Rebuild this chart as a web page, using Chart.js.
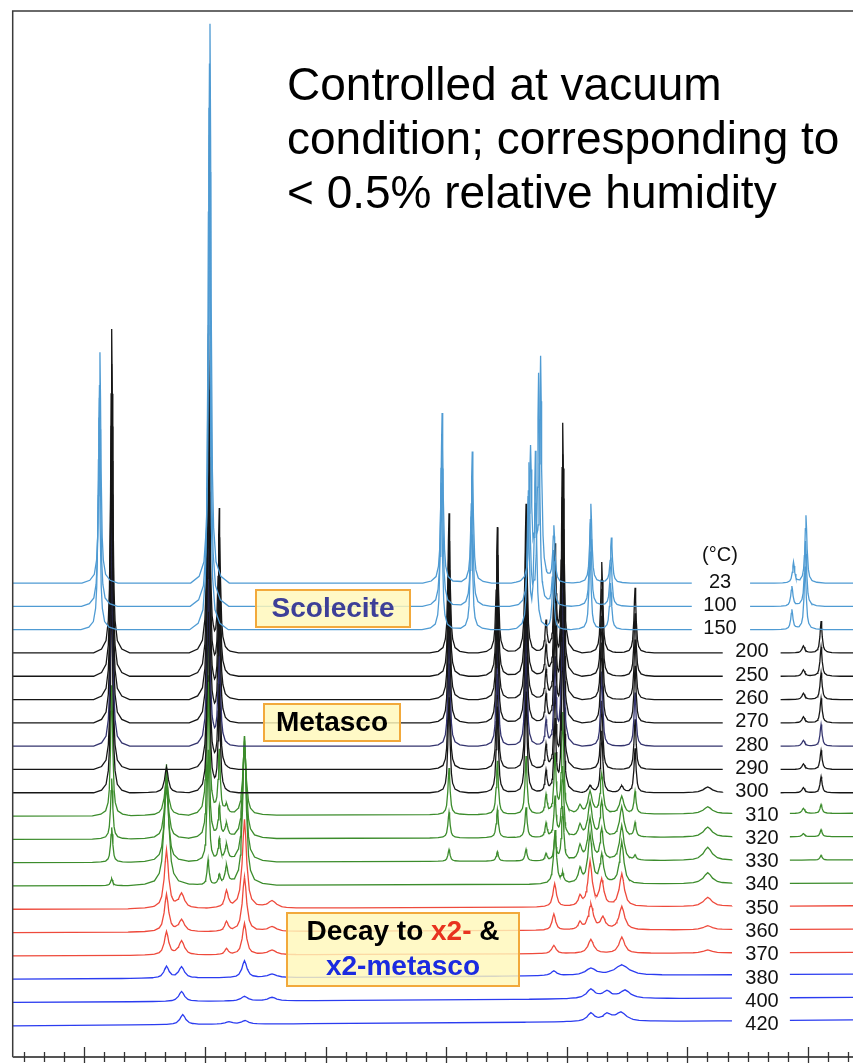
<!DOCTYPE html>
<html>
<head>
<meta charset="utf-8">
<title>Scolecite dehydration XRD</title>
<script src="https://cdn.jsdelivr.net/npm/chart.js@4.4.0/dist/chart.umd.min.js"></script>
<style>
  html, body { margin: 0; background: #fff; }
  #wrap { width: 853px; height: 1064px; }
</style>
</head>
<body>
<div id="wrap"><canvas id="xrd" width="853" height="1064"></canvas></div>
<script>
// temperatures (°C), top pattern first
const temps = ['23', '100', '150', '200', '250', '260', '270', '280', '290', '300',
               '310', '320', '330', '340', '350', '360', '370', '380', '400', '420'];

// vertical offset between neighbouring patterns (counts)
const stepOffset = 100;

// peaks of every pattern: [2θ (°), height (counts), half width (°)]
const peaks23 = [[6.39, 990, .028], [9.127, 2400, .03], [14.90, 730, .03], [15.65, 565, .03],
  [17.10, 560, .03], [17.22, 250, .03], [17.35, 950, .03], [17.68, 240, .03], [18.60, 340, .03],
  [19.11, 195, .03], [23.64, 88, .03], [23.95, 290, .03]];
const peaks100 = [[6.378, 950, .028], [9.114, 2330, .03], [14.89, 740, .03], [15.64, 550, .03],
  [17.06, 600, .03], [17.30, 990, .03], [17.67, 235, .03], [18.59, 360, .03], [19.10, 210, .03],
  [23.60, 85, .03], [23.94, 280, .03]];
const peaks150 = [[6.366, 910, .028], [9.102, 2240, .03], [14.88, 630, .03], [15.63, 510, .03],
  [17.04, 550, .03], [17.22, 750, .03], [17.66, 225, .03], [18.58, 335, .03], [19.09, 200, .03],
  [23.60, 85, .03], [23.93, 270, .03]];
const peaks200 = [[6.682, 1390, .028], [9.09, 1400, .03], [9.358, 605, .03], [15.072, 600, .03],
  [16.274, 540, .03], [16.988, 640, .03], [17.485, 130, .03], [17.709, 440, .03], [17.90, 975, .03],
  [18.871, 390, .03], [19.699, 280, .03], [23.886, 30, .04], [24.326, 137, .03]];
const peaks250 = [[6.682, 1340, .028], [9.09, 1350, .03], [9.358, 580, .03], [15.072, 580, .03],
  [16.274, 520, .03], [16.988, 615, .03], [17.485, 125, .03], [17.709, 425, .03], [17.90, 940, .03],
  [18.871, 375, .03], [19.699, 270, .03], [23.886, 28, .04], [24.326, 125, .03]];
const peaks260 = [[6.682, 1280, .028], [9.09, 1290, .03], [9.358, 555, .03], [15.072, 555, .03],
  [16.274, 500, .03], [16.988, 590, .03], [17.485, 120, .03], [17.709, 405, .03], [17.90, 900, .03],
  [18.871, 360, .03], [19.699, 258, .03], [23.886, 27, .04], [24.326, 115, .03]];
const peaks270 = [[6.682, 1225, .028], [9.09, 1230, .03], [9.358, 530, .03], [15.072, 530, .03],
  [16.274, 475, .03], [16.988, 565, .03], [17.485, 115, .03], [17.709, 390, .03], [17.90, 860, .03],
  [18.871, 345, .03], [19.699, 245, .03], [23.886, 26, .04], [24.326, 105, .03]];
const peaks280 = [[6.682, 1140, .028], [9.09, 1150, .03], [9.358, 495, .03], [15.072, 495, .03],
  [16.274, 445, .03], [16.988, 525, .03], [17.485, 105, .03], [17.709, 360, .03], [17.90, 800, .03],
  [18.871, 320, .03], [19.699, 230, .03], [23.886, 25, .04], [24.326, 93, .03]];
const peaks290 = [[6.682, 1060, .028], [9.09, 1060, .03], [9.358, 460, .03], [15.072, 455, .03],
  [16.274, 410, .03], [16.988, 485, .03], [17.485, 100, .03], [17.709, 335, .03], [17.90, 740, .03],
  [18.871, 295, .03], [19.699, 215, .03], [23.886, 24, .04], [24.326, 82, .03]];
const peaks300 = [[6.682, 950, .028], [8.045, 110, .05], [9.09, 950, .03], [9.358, 410, .03],
  [15.072, 410, .03], [16.274, 370, .03], [16.988, 435, .03], [17.485, 90, .03], [17.709, 300, .03],
  [17.90, 660, .03], [18.58, 30, .05], [18.871, 265, .03], [19.368, 30, .05], [19.699, 190, .03],
  [21.507, 25, .12], [23.886, 22, .04], [24.326, 69, .03]];
const peaks310 = [[6.682, 560, .03], [8.045, 150, .06], [9.08, 1000, .03], [9.358, 270, .03],
  [9.537, 40, .04], [9.985, 300, .05], [15.072, 200, .03], [16.274, 230, .03], [16.988, 250, .03],
  [17.485, 80, .03], [17.709, 250, .03], [17.90, 430, .03], [18.33, 35, .05], [18.58, 95, .06],
  [18.871, 170, .04], [19.368, 75, .06], [19.699, 95, .03], [21.507, 30, .12], [23.886, 22, .04],
  [24.326, 38, .03]];
const peaks320 = [[6.682, 260, .03], [8.045, 230, .06], [9.08, 700, .03], [9.358, 130, .03],
  [9.537, 60, .04], [9.985, 420, .05], [15.072, 110, .03], [16.274, 120, .03], [16.988, 130, .03],
  [17.485, 60, .03], [17.709, 170, .03], [17.90, 300, .03], [18.33, 50, .05], [18.58, 150, .06],
  [18.871, 150, .04], [19.368, 130, .06], [19.699, 60, .03], [21.507, 43, .12], [23.886, 13, .04],
  [24.326, 30, .03]];
const peaks330 = [[6.682, 150, .03], [8.045, 330, .06], [9.08, 480, .03], [9.358, 90, .03],
  [9.537, 70, .04], [9.985, 540, .05], [15.072, 50, .03], [16.274, 40, .03], [16.988, 50, .03],
  [17.485, 30, .03], [17.709, 100, .03], [17.90, 230, .03], [18.33, 60, .05], [18.58, 180, .06],
  [18.871, 130, .04], [19.368, 150, .06], [19.699, 20, .03], [21.507, 56, .12], [24.326, 20, .03]];
const peaks340 = [[6.682, 30, .03], [8.045, 520, .06], [9.08, 110, .03], [9.358, 40, .03],
  [9.537, 80, .04], [9.985, 640, .05], [17.709, 230, .04], [17.90, 40, .03], [18.33, 60, .05],
  [18.58, 210, .06], [18.871, 120, .05], [19.368, 180, .06], [21.507, 47, .12]];
const peaks350 = [[8.045, 250, .06], [8.42, 60, .08], [9.537, 70, .05], [9.985, 380, .06],
  [10.67, 30, .12], [17.70, 100, .05], [18.33, 40, .05], [18.58, 190, .06], [18.87, 110, .06],
  [19.37, 140, .07], [21.507, 39, .12]];
const peaks360 = [[8.045, 160, .06], [8.42, 50, .08], [9.537, 40, .05], [9.985, 235, .06],
  [10.67, 20, .12], [17.68, 70, .05], [18.33, 30, .05], [18.60, 110, .07], [18.90, 50, .07],
  [19.37, 100, .08], [21.507, 17, .12]];
const peaks370 = [[8.045, 100, .06], [8.42, 60, .08], [9.537, 25, .05], [9.985, 135, .06],
  [10.67, 20, .12], [17.68, 35, .06], [18.60, 60, .08], [19.37, 70, .08], [21.507, 13, .12]];
const peaks380 = [[8.045, 50, .07], [8.42, 48, .08], [9.985, 73, .07], [10.67, 15, .12],
  [17.68, 20, .08], [18.60, 30, .15], [19.37, 45, .2]];
const peaks400 = [[8.42, 43, .08], [9.985, 20, .1], [10.67, 15, .12], [18.60, 40, .12],
  [19.00, 30, .12], [19.45, 35, .15]];
const peaks420 = [[8.45, 43, .08], [9.60, 10, .1], [10.00, 15, .1], [18.60, 35, .1],
  [19.00, 30, .12], [19.35, 38, .15]];

const patternPeaks = [peaks23, peaks100, peaks150, peaks200, peaks250, peaks260, peaks270,
  peaks280, peaks290, peaks300, peaks310, peaks320, peaks330, peaks340, peaks350, peaks360,
  peaks370, peaks380, peaks400, peaks420];

// baseline drift across the scan [start, end] (counts)
const drift = [[0, 0], [0, 0], [0, 0], [0, 0], [0, 0], [0, 0], [0, 0], [0, 0], [0, 0], [0, 0],
  [0, 12], [0, 12], [0, 12], [0, 12], [0, 15], [0, 15], [0, 15], [0, 22], [0, 22], [0, 25]];

// ---- styling ----
const phaseColor = {
  scolecite: '#4f9bd3', metasco: '#161616', navy: '#34346e',
  mixed: '#3c8c2c', x2: '#ee4a3c', x2meta: '#2b3cf0'
};
const traceColors = temps.map((t, i) => {
  if (i < 3) return phaseColor.scolecite;
  if (t === '280') return phaseColor.navy;
  if (i < 10) return phaseColor.metasco;
  if (i < 14) return phaseColor.mixed;
  if (i < 17) return phaseColor.x2;
  return phaseColor.x2meta;
});
// where each pattern is broken for its temperature label (2θ) and label centre (px)
const labelGap = i => i < 3 ? [21.11, 22.56, 720] : (i < 10 ? [21.88, 23.32, 752] : [22.11, 23.55, 762]);

const xMin = 4.22, xMax = 25.12;
const yMin = -134, yMax = 4355;

// Lorentzian-like peak outline: [distance in half widths, relative height]
const peakShape = [[0, 1], [0.5, 0.8], [1, 0.5], [2, 0.2], [3, 0.1], [5, 0.038], [9, 0.012], [16, 0]];

function peakValue(x, p) {
  const d = Math.abs(x - p[0]) / p[2];
  for (let k = 1; k < peakShape.length; k++) {
    if (d <= peakShape[k][0]) {
      const [d0, v0] = peakShape[k - 1], [d1, v1] = peakShape[k];
      return p[1] * (v0 + (v1 - v0) * (d - d0) / (d1 - d0));
    }
  }
  return 0;
}

function buildTrace(i) {
  const list = patternPeaks[i];
  const [g0, g1] = labelGap(i);
  const xs = new Set([xMin, xMax, g0, g1]);
  list.forEach(p => peakShape.forEach(([d]) => {
    xs.add(+(p[0] - d * p[2]).toFixed(4));
    xs.add(+(p[0] + d * p[2]).toFixed(4));
  }));
  const sorted = [...xs].filter(x => x >= xMin && x <= xMax && (x <= g0 || x >= g1))
    .sort((a, b) => a - b);
  const off = (temps.length - 1 - i) * stepOffset;
  const pts = [];
  sorted.forEach(x => {
    if (x >= g1 && pts.length && pts[pts.length - 1].x <= g0) {
      pts.push({ x: (g0 + g1) / 2, y: null });
    }
    const base = off + drift[i][0] + (drift[i][1] - drift[i][0]) * (x - xMin) / (xMax - xMin);
    pts.push({ x, y: base + list.reduce((s, p) => s + peakValue(x, p), 0) });
  });
  return pts;
}

const datasets = temps.map((t, i) => ({
  label: t + ' °C',
  data: buildTrace(i),
  borderColor: traceColors[i],
  borderWidth: 1.3,
  pointRadius: 0,
  tension: 0,
  spanGaps: false
}));

const FONT = "'Liberation Sans', Arial, Helvetica, sans-serif";

function noteBox(ctx, x, y, w, h) {
  ctx.save();
  ctx.fillStyle = 'rgba(255, 248, 185, 0.82)';
  ctx.fillRect(x, y, w, h);
  ctx.strokeStyle = '#f2a93b';
  ctx.lineWidth = 2;
  ctx.strokeRect(x, y, w, h);
  ctx.restore();
}

// frame, crossing ticks, temperature labels and notes
const decorations = {
  id: 'decorations',
  afterDatasetsDraw(chart) {
    const { ctx, chartArea: a, scales: { x, y } } = chart;
    ctx.save();

    // frame
    ctx.strokeStyle = '#3a3a3a';
    ctx.lineWidth = 1.5;
    ctx.beginPath();
    ctx.moveTo(a.right, a.top);
    ctx.lineTo(a.left, a.top);
    ctx.lineTo(a.left, a.bottom);
    ctx.stroke();
    ctx.strokeStyle = '#555';
    ctx.lineWidth = 2;
    ctx.beginPath();
    ctx.moveTo(a.left, a.bottom);
    ctx.lineTo(a.right, a.bottom);
    ctx.stroke();

    // ticks every 0.5°, long ones every 3°
    ctx.strokeStyle = '#333';
    ctx.lineWidth = 1.3;
    for (let v = Math.ceil(xMin * 2) / 2; v <= xMax; v += 0.5) {
      const px = Math.round(x.getPixelForValue(v)) + 0.5;
      const major = Math.abs(v / 3 - Math.round(v / 3)) < 1e-6;
      ctx.beginPath();
      ctx.moveTo(px, a.bottom - (major ? 10 : 5));
      ctx.lineTo(px, a.bottom + (major ? 6 : 5));
      ctx.stroke();
    }

    // temperature labels
    ctx.fillStyle = '#111';
    ctx.font = '20px ' + FONT;
    ctx.textAlign = 'center';
    ctx.textBaseline = 'middle';
    temps.forEach((t, i) => {
      const off = (temps.length - 1 - i) * stepOffset;
      ctx.fillText(t, labelGap(i)[2], y.getPixelForValue(off) - 1);
    });
    ctx.fillText('(°C)', 720, 555);

    // phase notes
    noteBox(ctx, 256, 590, 154, 37);
    ctx.font = 'bold 28px ' + FONT;
    ctx.fillStyle = '#3d3f98';
    ctx.fillText('Scolecite', 333, 609);

    noteBox(ctx, 264, 704, 136, 37);
    ctx.fillStyle = '#000';
    ctx.fillText('Metasco', 332, 723);

    noteBox(ctx, 287, 913, 232, 73);
    ctx.textAlign = 'left';
    const p1 = 'Decay to ', p2 = 'x2-', p3 = ' &';
    const w1 = ctx.measureText(p1).width, w2 = ctx.measureText(p2).width;
    const wAll = w1 + w2 + ctx.measureText(p3).width;
    let sx = 403 - wAll / 2;
    ctx.fillStyle = '#000';
    ctx.fillText(p1, sx, 932);
    ctx.fillStyle = '#e8321f';
    ctx.fillText(p2, sx + w1, 932);
    ctx.fillStyle = '#000';
    ctx.fillText(p3, sx + w1 + w2, 932);
    ctx.textAlign = 'center';
    ctx.fillStyle = '#1b2be0';
    ctx.fillText('x2-metasco', 403, 967);

    // measurement condition
    ctx.textAlign = 'left';
    ctx.textBaseline = 'alphabetic';
    ctx.fillStyle = '#000';
    ctx.font = '46px ' + FONT;
    ctx.fillText('Controlled at vacuum', 287, 100);
    ctx.fillText('condition; corresponding to', 287, 154);
    ctx.fillText('< 0.5% relative humidity', 287, 208);

    ctx.restore();
  }
};

new Chart(document.getElementById('xrd'), {
  type: 'line',
  data: { datasets },
  options: {
    responsive: false,
    devicePixelRatio: 1,
    animation: false,
    layout: { padding: { left: 12.7, top: 11, right: 0, bottom: 7 } },
    scales: {
      x: { type: 'linear', min: xMin, max: xMax, display: false },
      y: { min: yMin, max: yMax, display: false }
    },
    plugins: { legend: { display: false }, tooltip: { enabled: false } }
  },
  plugins: [decorations]
});
</script>
</body>
</html>
